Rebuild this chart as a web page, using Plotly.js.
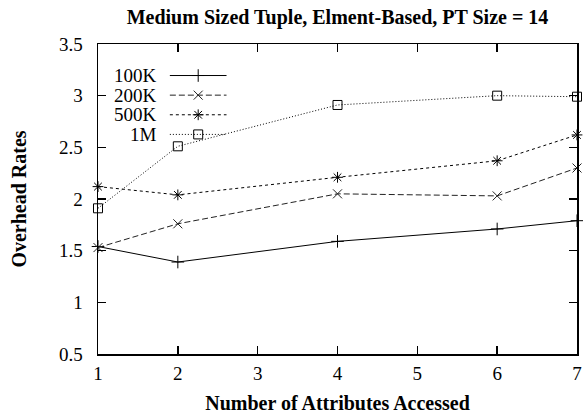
<!DOCTYPE html>
<html>
<head>
<meta charset="utf-8">
<script src="https://cdn.plot.ly/plotly-3.0.1.min.js"></script>
<style>
  html, body { margin: 0; padding: 0; background: #fff; }
  #chart { width: 583px; height: 418px; }
</style>
</head>
<body>
<div id="chart"></div>
<script>
// ---- data ----
const attributesAccessed = [1, 2, 4, 6, 7];
const rates100K = [1.54, 1.39, 1.59, 1.71, 1.79];
const rates200K = [1.53, 1.76, 2.05, 2.03, 2.30];
const rates500K = [2.12, 2.04, 2.21, 2.37, 2.62];
const rates1M   = [1.91, 2.51, 2.91, 3.00, 2.99];
const seriesNames = ['100K', '200K', '500K', '1M'];
const xTickVals = [1, 2, 3, 4, 5, 6, 7];
const xTickText = ['1', '2', '3', '4', '5', '6', '7'];
const yTickVals = [0.5, 1, 1.5, 2, 2.5, 3, 3.5];
const yTickText = ['0.5', '1', '1.5', '2', '2.5', '3', '3.5'];

// ---- styles ----
const FONT = '"Liberation Serif", serif';
const seriesValues = [rates100K, rates200K, rates500K, rates1M];
const styles = [
  { dash: 'solid',     symbol: 'cross-thin-open', color: '#000' },
  { dash: '6px,3px',   symbol: 'x-thin-open',     color: '#222' },
  { dash: '3px,3px',   symbol: 'asterisk-open',   color: '#000' },
  { dash: '1px,2px',   symbol: 'square-open',     color: '#000' }
];
const MSIZE = 9;

const traces = [];
seriesValues.forEach((vals, i) => {
  traces.push({
    type: 'scatter', mode: 'lines+markers',
    x: attributesAccessed, y: vals, name: seriesNames[i],
    line: { color: styles[i].color, width: 1, dash: styles[i].dash },
    marker: { symbol: styles[i].symbol, size: MSIZE, color: styles[i].color,
              line: { color: styles[i].color, width: 1 } },
    cliponaxis: false, showlegend: false, hoverinfo: 'x+y+name'
  });
});

// ---- hand-built legend (text to the left of the sample, gnuplot style) ----
const LEG = { textX: 1.76, x0: 1.90, x1: 2.61, top: 3.195, step: 0.19 };
const annotations = [];
seriesNames.forEach((nm, i) => {
  const yy = LEG.top - i * LEG.step;
  const xc = (LEG.x0 + LEG.x1) / 2;
  traces.push({
    type: 'scatter', mode: 'lines', x: [LEG.x0, LEG.x1], y: [yy, yy],
    line: { color: styles[i].color, width: 1, dash: styles[i].dash },
    showlegend: false, hoverinfo: 'skip'
  });
  traces.push({
    type: 'scatter', mode: 'markers', x: [xc], y: [yy],
    marker: { symbol: styles[i].symbol, size: MSIZE, color: styles[i].color,
              line: { color: styles[i].color, width: 1 } },
    showlegend: false, hoverinfo: 'skip'
  });
  annotations.push({
    xref: 'x', yref: 'y', x: LEG.textX, y: yy, text: nm,
    xanchor: 'right', yanchor: 'middle', showarrow: false,
    font: { family: FONT, size: 19, color: '#000' }
  });
});

const axisCommon = {
  showgrid: false, zeroline: false, showline: true, linecolor: '#000', linewidth: 1.5,
  ticks: 'inside', ticklen: 8, tickwidth: 1.5, tickcolor: '#000', mirror: 'ticks',
  tickfont: { family: FONT, size: 19, color: '#000' }, fixedrange: true
};

const layout = {
  width: 583, height: 418,
  margin: { l: 98, r: 6, t: 44, b: 64, pad: 0 },
  paper_bgcolor: '#fff', plot_bgcolor: '#fff',
  font: { family: FONT, color: '#000' },
  showlegend: false,
  title: {
    text: 'Medium Sized Tuple, Elment-Based, PT Size = 14',
    font: { family: FONT, size: 20, color: '#000', weight: 'bold' },
    xref: 'paper', x: 0.5, xanchor: 'center',
    yref: 'container', y: 1 - 17 / 418, yanchor: 'middle'
  },
  xaxis: Object.assign({}, axisCommon, {
    range: [1, 7], tickmode: 'array', tickvals: xTickVals, ticktext: xTickText,
    ticklabelstandoff: 2,
    title: { text: 'Number of Attributes Accessed', standoff: 12,
             font: { family: FONT, size: 20, color: '#000', weight: 'bold' } }
  }),
  yaxis: Object.assign({}, axisCommon, {
    range: [0.5, 3.5], tickmode: 'array', tickvals: yTickVals, ticktext: yTickText,
    ticklabelstandoff: 10,
    title: { text: 'Overhead Rates', standoff: 27,
             font: { family: FONT, size: 20, color: '#000', weight: 'bold' } }
  }),
  annotations: annotations
};

Plotly.newPlot('chart', traces, layout, { displayModeBar: false, staticPlot: true });
</script>
</body>
</html>
